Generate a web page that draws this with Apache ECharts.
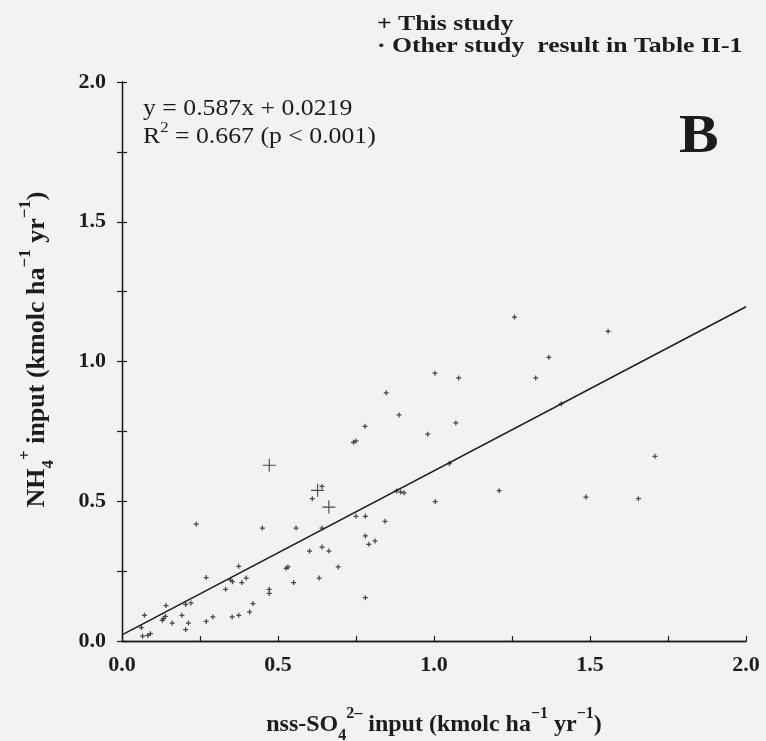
<!DOCTYPE html>
<html>
<head>
<meta charset="utf-8">
<script src="https://cdn.jsdelivr.net/npm/echarts@6/dist/echarts.min.js"></script>
<style>
  html, body { margin: 0; padding: 0; background: #f2f2f1; }
  #chart { width: 766px; height: 741px; }
</style>
</head>
<body>
<div id="chart"></div>
<script>
// Deposition inputs: nss-SO4(2-) vs NH4(+) (kmolc ha-1 yr-1)
const thisStudyX = [0.472, 0.627, 0.663];
const thisStudyY = [0.629, 0.539, 0.479];

const otherStudyX = [
  0.847, 0.888, 0.779, 0.980, 0.742, 0.750, 0.641, 0.610, 0.880, 0.893, 0.904,
  0.238, 0.450, 0.558, 0.641, 0.750, 0.780, 0.843, 0.780, 0.811, 0.791, 0.641,
  0.663, 0.601, 0.693, 0.526, 0.532, 0.550, 0.632, 0.780, 0.374, 0.270, 0.348,
  0.354, 0.384, 0.398, 0.332, 0.472, 0.472, 0.420, 0.409, 0.374, 0.353, 0.291,
  0.270, 0.221, 0.204, 0.213, 0.204, 0.192, 0.161, 0.141, 0.139, 0.133, 0.129,
  0.072, 0.062, 0.066, 0.083, 0.091,
  1.258, 1.558, 1.368, 1.003, 1.079, 1.326, 1.408, 1.070, 1.049, 1.708, 1.209,
  1.004, 1.487, 1.655
];
const otherStudyY = [
  0.888, 0.809, 0.768, 0.740, 0.711, 0.716, 0.553, 0.509, 0.537, 0.533, 0.530,
  0.418, 0.404, 0.404, 0.404, 0.446, 0.446, 0.428, 0.376, 0.358, 0.346, 0.336,
  0.322, 0.322, 0.265, 0.260, 0.265, 0.209, 0.225, 0.155, 0.267, 0.227, 0.219,
  0.212, 0.209, 0.225, 0.185, 0.185, 0.170, 0.134, 0.104, 0.092, 0.086, 0.086,
  0.070, 0.136, 0.131, 0.064, 0.041, 0.092, 0.064, 0.127, 0.088, 0.080, 0.074,
  0.092, 0.048, 0.017, 0.020, 0.026,
  1.159, 1.108, 1.015, 0.958, 0.941, 0.941, 0.849, 0.780, 0.635, 0.661, 0.538,
  0.499, 0.515, 0.509
];

// Least-squares fit reported on the panel
const slope = 0.587;
const intercept = 0.0219;
const rSquared = 0.667;

const axisMin = 0, axisMax = 2;
const tickLabels = ['0.0', '0.5', '1.0', '1.5', '2.0'];

const seriesNames = ['This study', 'Other study  result in Table II-1'];
const panelLetter = 'B';

const ink = '#1c1c1c';
const serif = '"Liberation Serif", "Times New Roman", serif';

const zip = (xs, ys) => xs.map((x, i) => [x, ys[i]]);
const fitLine = [axisMin, axisMax].map(x => [x, slope * x + intercept]);

// only the half-unit ticks carry a label
const labelFor = v => {
  const onHalf = Math.abs(v * 2 - Math.round(v * 2)) < 1e-6;
  return onHalf ? tickLabels[Math.round(v * 2)] : '';
};

const plusPath = 'path://M6.4,0 h1.2 v6.4 h6.4 v1.2 h-6.4 v6.4 h-1.2 v-6.4 h-6.4 v-1.2 h6.4 z';
const dotPath = 'path://M1.5,0 h1 v1.5 h1.5 v1 h-1.5 v1.5 h-1 v-1.5 h-1.5 v-1 h1.5 z';

const makeRich = (size, small, shift) => ({
  b: { fontFamily: serif, fontWeight: 'bold', fontSize: size, color: ink },
  sub: { fontFamily: serif, fontWeight: 'bold', fontSize: small, color: ink, verticalAlign: 'bottom', padding: [0, 0, -shift, 0] },
  sup: { fontFamily: serif, fontWeight: 'bold', fontSize: small, color: ink, verticalAlign: 'top', padding: [-shift, 0, 0, 0] }
});

const tickLabelStyle = {
  fontFamily: serif, fontWeight: 'bold', fontSize: 22, color: ink
};

const chart = echarts.init(document.getElementById('chart'), null, { renderer: 'canvas' });

chart.setOption({
  backgroundColor: '#f2f2f1',
  animation: false,
  grid: { left: 122, right: 20, top: 82, bottom: 100, outerBoundsMode: 'none', containLabel: false },
  xAxis: [{
    type: 'value',
    min: axisMin, max: axisMax, interval: 0.25,
    axisLine: { lineStyle: { color: ink, width: 1.3 } },
    axisTick: { inside: true, length: 5, lineStyle: { color: ink, width: 1.2 } },
    splitLine: { show: false },
    axisLabel: Object.assign({ margin: 13, formatter: labelFor, showMinLabel: true, showMaxLabel: true }, tickLabelStyle),
    name: '{b|nss-SO}{sub|4}{sup|2\u2013}{b| input (kmolc ha}{sup|\u22121}{b| yr}{sup|\u22121}{b|)}',
    nameLocation: 'middle',
    nameGap: 72,
    nameTextStyle: { rich: makeRich(24, 16, 7) }
  }, {
    type: 'value', position: 'top',
    min: axisMin, max: axisMax, interval: 0.25,
    axisLine: { lineStyle: { color: ink, width: 1.3 } },
    axisTick: { show: false }, axisLabel: { show: false }, splitLine: { show: false }
  }],
  yAxis: [{
    type: 'value',
    min: axisMin, max: axisMax, interval: 0.25,
    axisLine: { lineStyle: { color: ink, width: 1.3 } },
    axisTick: { inside: true, length: 5, lineStyle: { color: ink, width: 1.2 } },
    splitLine: { show: false },
    axisLabel: Object.assign({ margin: 16, formatter: labelFor, showMinLabel: true, showMaxLabel: true }, tickLabelStyle),
    name: '{b|NH}{sub|4}{sup|+}{b| input (kmolc ha}{sup|\u22121}{b| yr}{sup|\u22121}{b|)}',
    nameLocation: 'middle',
    nameGap: 72,
    nameRotate: 90,
    nameTextStyle: { rich: makeRich(26, 17, 7), padding: [0, 0, 0, 24] }
  }, {
    type: 'value', position: 'right',
    min: axisMin, max: axisMax, interval: 0.25,
    axisLine: { lineStyle: { color: ink, width: 1.3 } },
    axisTick: { inside: true, length: 5, lineStyle: { color: ink, width: 1.2 } },
    axisLabel: { show: false }, splitLine: { show: false }
  }],
  graphic: [{
    // key for the two kinds of marks
    type: 'group',
    left: 377, top: 13,
    children: [{
      type: 'text', x: 0, y: 0, scaleX: 1.17,
      style: { text: '+ ' + seriesNames[0], fontFamily: serif, fontWeight: 'bold', fontSize: 22, fill: ink }
    }, {
      type: 'text', x: 0, y: 22, scaleX: 1.17,
      style: { text: '\u00b7 ' + seriesNames[1], fontFamily: serif, fontWeight: 'bold', fontSize: 22, fill: ink }
    }]
  }, {
    type: 'text',
    left: 143, top: 95, scaleX: 1.12,
    style: {
      text: 'y = ' + slope + 'x + ' + intercept + '\n{n|R}{s|2}{n| = ' + rSquared.toFixed(3) + ' (p < 0.001)}',
      fontFamily: serif, fontSize: 23, fill: ink, lineHeight: 28,
      rich: {
        n: { fontFamily: serif, fontSize: 23, color: ink, lineHeight: 28 },
        s: { fontFamily: serif, fontSize: 15, color: ink, verticalAlign: 'top', lineHeight: 28, padding: [-2, 0, 0, 0] }
      }
    }
  }, {
    type: 'text',
    left: 679, top: 110, scaleX: 1.08,
    style: { text: panelLetter, fontFamily: serif, fontWeight: 'bold', fontSize: 55, fill: ink }
  }],
  series: [{
    name: 'fit',
    type: 'line',
    data: fitLine,
    showSymbol: false,
    symbol: 'none',
    lineStyle: { color: ink, width: 1.5 },
    silent: true,
    z: 1
  }, {
    name: seriesNames[1],
    type: 'scatter',
    data: zip(otherStudyX, otherStudyY),
    symbol: dotPath,
    symbolSize: 5,
    itemStyle: { color: ink },
    z: 3
  }, {
    name: seriesNames[0],
    type: 'scatter',
    data: zip(thisStudyX, thisStudyY),
    symbol: plusPath,
    symbolSize: 13,
    itemStyle: { color: ink },
    z: 4
  }]
});
</script>
</body>
</html>
